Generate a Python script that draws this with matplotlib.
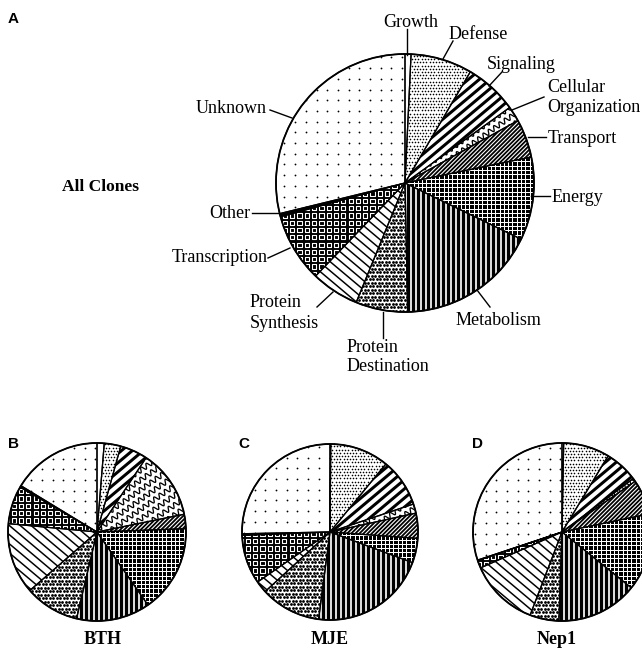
import numpy as np
import matplotlib
matplotlib.use("Agg")
import matplotlib.pyplot as plt
import matplotlib.patches as mpatches
from matplotlib.collections import LineCollection

W, H = 642, 652

categories = ["Growth", "Defense", "Signaling", "Cellular Organization", "Transport",
              "Energy", "Metabolism", "Protein Destination", "Protein Synthesis",
              "Transcription", "Other", "Unknown"]

# percent of clones per category (clockwise from 12 o'clock)
all_clones = [0.75, 7.7, 6.6, 1.9, 4.8, 10.4, 17.5, 6.5, 6.0, 8.6, 0.4, 28.8]
bth = [1.3, 3.0, 5.0, 12.5, 2.6, 15.9, 13.4, 9.9, 12.9, 6.9, 0.3, 16.3]
mje = [0.14, 10.8, 8.9, 1.7, 4.6, 4.5, 21.4, 11.1, 2.2, 9.0, 0.3, 25.3]
nep1 = [0.3, 8.4, 6.1, 0.6, 6.4, 14.1, 14.8, 5.3, 12.6, 1.4, 0.1, 30.2]

SERIF = "Liberation Serif"
SANS = "Liberation Sans"
LIM = 1.03


def pt(px):
    return px * 0.72


def stripes(ax, clip, r, angle, spacing, width, color="black"):
    th = np.deg2rad(angle)
    d = np.array([np.cos(th), np.sin(th)])
    n = np.array([-np.sin(th), np.cos(th)])
    ks = np.arange(-1.6, 1.6, spacing / r)
    segs = [[k * n - 1.6 * d, k * n + 1.6 * d] for k in ks]
    lc = LineCollection(segs, colors=color, linewidths=pt(width), zorder=2)
    ax.add_collection(lc)
    lc.set_clip_path(clip)


def dots(ax, clip, r, spacing, size, stagger=False, color="black", marker="o", hollow=False, ew=1.0):
    g = np.arange(-1.1, 1.1, spacing / r)
    xx, yy = np.meshgrid(g, g)
    if stagger:
        xx[1::2] += spacing / r / 2
    if hollow:
        sc = ax.scatter(xx.ravel(), yy.ravel(), s=pt(size) ** 2, marker=marker,
                        facecolors="none", edgecolors=color, linewidths=pt(ew), zorder=2)
    else:
        sc = ax.scatter(xx.ravel(), yy.ravel(), s=pt(size) ** 2, marker=marker,
                        c=color, linewidths=0, zorder=2)
    sc.set_clip_path(clip)


def waves(ax, clip, r, angle, spacing, wavelength, amp, width):
    th = np.deg2rad(angle)
    d = np.array([np.cos(th), np.sin(th)])
    n = np.array([-np.sin(th), np.cos(th)])
    t = np.linspace(-1.6, 1.6, 1500)
    segs = []
    for k in np.arange(-1.6, 1.6, spacing / r):
        off = k + (amp / r) * np.sin(2 * np.pi * t * r / wavelength)
        segs.append(t[:, None] * d + off[:, None] * n)
    lc = LineCollection(segs, colors="black", linewidths=pt(width), zorder=2)
    ax.add_collection(lc)
    lc.set_clip_path(clip)


def fill(ax, w, idx, r):
    name = categories[idx]
    if name in ("Energy", "Metabolism", "Transcription", "Other"):
        w.set_facecolor("black")
    else:
        w.set_facecolor("white")
    if name == "Defense":
        dots(ax, w, r, 3.2, 1.6, stagger=True)
    elif name == "Signaling":
        stripes(ax, w, r, 40, 7.0, 3.0)
    elif name == "Cellular Organization":
        waves(ax, w, r, 35, 8.0, 6.5, 2.4, 1.3)
    elif name == "Transport":
        stripes(ax, w, r, 45, 2.9, 1.8)
    elif name == "Energy":
        stripes(ax, w, r, 0, 4.3, 1.0, "white")
        stripes(ax, w, r, 90, 4.3, 1.0, "white")
    elif name == "Metabolism":
        stripes(ax, w, r, 90, 5.0, 1.7, "white")
    elif name == "Protein Destination":
        dots(ax, w, r, 3.5, 2.8, stagger=True)
    elif name == "Protein Synthesis":
        stripes(ax, w, r, -40, 7.0, 1.5)
    elif name == "Transcription":
        dots(ax, w, r, 7.3, 4.2, color="white", marker="s", hollow=True, ew=1.1)
    elif name == "Unknown":
        dots(ax, w, r, 10.7, 1.8)


def draw_pie(fig, values, cx, cy, r):
    box = r * LIM
    ax = fig.add_axes([(cx - box) / W, 1 - (cy + box) / H, 2 * box / W, 2 * box / H])
    wedges, _ = ax.pie(values, startangle=90, counterclock=False, radius=1,
                       wedgeprops=dict(edgecolor="none", linewidth=0))
    for i, w in enumerate(wedges):
        fill(ax, w, i, r)
        edge = mpatches.Wedge(w.center, w.r, w.theta1, w.theta2, fill=False,
                              edgecolor="black", linewidth=0.9, zorder=3)
        ax.add_patch(edge)
    ax.add_patch(mpatches.Circle((0, 0), 1, fill=False, edgecolor="black", linewidth=1.3, zorder=4))
    ax.set_xlim(-LIM, LIM)
    ax.set_ylim(-LIM, LIM)
    ax.set_aspect("equal")
    ax.axis("off")
    return ax


fig = plt.figure(figsize=(W / 100, H / 100), dpi=100)
fig.patch.set_facecolor("white")

draw_pie(fig, all_clones, 405, 183, 129)
draw_pie(fig, bth, 97, 532, 89)
draw_pie(fig, mje, 330, 532, 88)
draw_pie(fig, nep1, 562, 532, 89)

ov = fig.add_axes([0, 0, 1, 1], zorder=10)
ov.set_xlim(0, W)
ov.set_ylim(H, 0)
ov.axis("off")
ov.patch.set_alpha(0)

labels = [
    ("Growth", 383, 27), ("Defense", 449, 39), ("Signaling", 487, 69),
    ("Cellular", 547, 92), ("Organization", 547, 112), ("Transport", 548, 143),
    ("Energy", 552, 202), ("Metabolism", 456, 325), ("Protein", 347, 352),
    ("Destination", 347, 371), ("Protein", 250, 307), ("Synthesis", 250, 328),
    ("Transcription", 172, 262), ("Other", 209, 218), ("Unknown", 196, 113),
]
for txt, x, y in labels:
    ov.text(x, y, txt, fontsize=13, family=SERIF, ha="left", va="baseline")

leaders = [
    ((407, 29), (407, 55)), ((453, 41), (443, 59)), ((502, 72), (489, 86)),
    ((544, 97), (512, 110)), ((528, 137), (546, 137)), ((531, 196), (550, 196)),
    ((477, 290), (490, 307)), ((383, 312), (383, 338)), ((317, 307), (333, 292)),
    ((268, 258), (290, 248)), ((252, 213), (278, 213)), ((270, 110), (292, 118)),
]
for (x1, y1), (x2, y2) in leaders:
    ov.plot([x1, x2], [y1, y2], color="black", linewidth=1.0)

ov.text(62, 191, "All Clones", fontsize=12.5, family=SERIF, fontweight="bold", ha="left", va="baseline")
for txt, x in [("BTH", 103), ("MJE", 330), ("Nep1", 557)]:
    ov.text(x, 644, txt, fontsize=13, family=SERIF, fontweight="bold", ha="center", va="baseline")
for txt, x, y in [("A", 8, 23), ("B", 8, 448), ("C", 238, 448), ("D", 472, 448)]:
    ov.text(x, y, txt, fontsize=11, family=SANS, fontweight="bold", ha="left", va="baseline")

fig.savefig("out.png", dpi=100, facecolor="white")
